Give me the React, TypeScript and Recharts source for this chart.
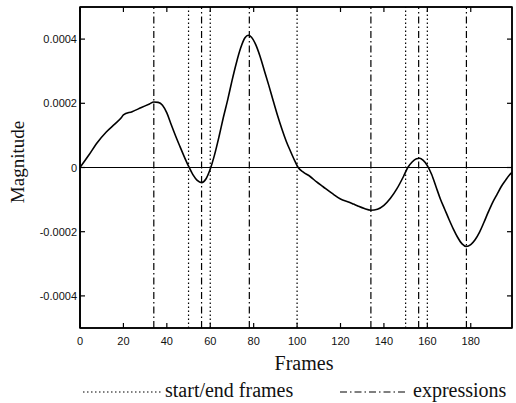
import React from 'react';
import { LineChart, Line, XAxis, YAxis, ReferenceLine, ReferenceArea } from 'recharts';

const FRAMES = [
  0, 4, 8, 12, 16, 19, 20, 24, 28, 32, 34, 36, 38, 40, 42, 44, 46, 48, 50, 52, 54, 56, 58, 60,
  62, 64, 66, 68, 70, 72, 74, 76, 77.5, 79, 81, 83, 85, 87, 89, 91, 93, 95, 97, 99, 100.5,
  103, 106, 109, 112, 116, 120, 124, 126, 128, 131, 134, 137, 140, 143, 146, 149, 151, 153,
  155, 156.5, 158, 160, 162, 164, 166, 168, 170, 172, 174, 176, 178, 180, 182, 184, 186, 188,
  190, 192, 194, 196, 198, 199,
];

const MAGNITUDE = [
  0, 0.38e-4, 0.78e-4, 1.1e-4, 1.35e-4, 1.55e-4, 1.64e-4, 1.74e-4, 1.86e-4, 1.98e-4, 2.04e-4,
  2.03e-4, 1.94e-4, 1.7e-4, 1.34e-4, 0.99e-4, 0.66e-4, 0.34e-4, 0.04e-4, -0.22e-4, -0.4e-4,
  -0.47e-4, -0.36e-4, -0.05e-4, 0.4e-4, 0.95e-4, 1.55e-4, 2.1e-4, 2.7e-4, 3.25e-4, 3.72e-4,
  4.04e-4, 4.12e-4, 4.06e-4, 3.82e-4, 3.45e-4, 3.0e-4, 2.55e-4, 2.08e-4, 1.62e-4, 1.2e-4,
  0.82e-4, 0.5e-4, 0.2e-4, 0, -0.15e-4, -0.28e-4, -0.45e-4, -0.6e-4, -0.8e-4, -0.98e-4,
  -1.08e-4, -1.14e-4, -1.2e-4, -1.28e-4, -1.33e-4, -1.3e-4, -1.18e-4, -0.96e-4, -0.66e-4,
  -0.28e-4, 0, 0.17e-4, 0.27e-4, 0.29e-4, 0.23e-4, 0.06e-4, -0.22e-4, -0.6e-4, -0.98e-4,
  -1.3e-4, -1.62e-4, -1.92e-4, -2.18e-4, -2.38e-4, -2.46e-4, -2.4e-4, -2.25e-4, -2.02e-4,
  -1.72e-4, -1.4e-4, -1.1e-4, -0.85e-4, -0.6e-4, -0.4e-4, -0.22e-4, -0.15e-4,
];

const X_MIN = 0;
const X_MAX = 199;
const Y_MIN = -0.0005;
const Y_MAX = 0.0005;
const X_TICKS = [0, 20, 40, 60, 80, 100, 120, 140, 160, 180];
const Y_TICKS = [-0.0004, -0.0002, 0, 0.0002, 0.0004];
const Y_TICK_LABELS = ['-0.0004', '-0.0002', '0', '0.0002', '0.0004'];
const START_END_FRAMES = [50, 60, 100, 150, 160];
const EXPRESSION_FRAMES = [34, 56, 78, 134, 156, 178];
const LEGEND_LABELS = ['start/end frames', 'expressions'];
const X_LABEL = 'Frames';
const Y_LABEL = 'Magnitude';

// inward tick lengths for the top/right box edges, in data units (~5px)
const TICK_LEN_X = 2.3;
const TICK_LEN_Y = 0.0000155;

const data = FRAMES.map((f, i) => ({ frame: f, magnitude: MAGNITUDE[i] }));

const TICK_FONT = '"Liberation Sans", Arial, sans-serif';
const SERIF = '"Liberation Serif", "Times New Roman", serif';
const DOTTED = '1.5 2.5';
const DASHDOT = '7 3 1.5 3';

const BottomTick = (props: any) => {
  const { x, y, payload } = props;
  return (
    <g>
      <line x1={x} y1={y} x2={x} y2={y - 5} stroke="#000" strokeWidth={1.2} />
      <text x={x} y={y + 17} textAnchor="middle" fontSize={11} fontFamily={TICK_FONT} fill="#111">
        {payload.value}
      </text>
    </g>
  );
};

const LeftTick = (props: any) => {
  const { x, y, payload } = props;
  const idx = Y_TICKS.indexOf(payload.value);
  return (
    <g>
      <line x1={x} y1={y} x2={x + 5} y2={y} stroke="#000" strokeWidth={1.2} />
      <text x={x - 3} y={y + 4} textAnchor="end" fontSize={11} fontFamily={TICK_FONT} fill="#111">
        {idx >= 0 ? Y_TICK_LABELS[idx] : ''}
      </text>
    </g>
  );
};

export default function App() {
  return (
    <div style={{ position: 'absolute', left: 0, top: 0, width: 516, height: 403, background: '#fff' }}>
      <LineChart width={516} height={403} data={data} margin={{ top: 7, right: 4, left: 0, bottom: 55 }}>
        <XAxis
          dataKey="frame"
          type="number"
          domain={[X_MIN, X_MAX]}
          ticks={X_TICKS}
          interval={0}
          allowDataOverflow
          height={20}
          tickSize={0}
          tickMargin={0}
          tickLine={false}
          tick={<BottomTick />}
          axisLine={{ stroke: '#000', strokeWidth: 1.5 }}
        />
        <YAxis
          type="number"
          domain={[Y_MIN, Y_MAX]}
          ticks={Y_TICKS}
          interval={0}
          allowDataOverflow
          width={80}
          tickSize={0}
          tickMargin={0}
          tickLine={false}
          tick={<LeftTick />}
          axisLine={{ stroke: '#000', strokeWidth: 1.8 }}
        />
        <ReferenceArea
          x1={X_MIN}
          x2={X_MAX}
          y1={Y_MIN}
          y2={Y_MAX}
          fill="none"
          stroke="#000"
          strokeWidth={1.5}
          ifOverflow="visible"
        />
        <ReferenceLine y={Y_MAX} stroke="#000" strokeWidth={1.5} ifOverflow="extendDomain" />
        <ReferenceLine x={X_MAX} stroke="#000" strokeWidth={1.5} ifOverflow="extendDomain" />
        {X_TICKS.map((t) => (
          <ReferenceLine
            key={'tt' + t}
            ifOverflow="extendDomain"
            segment={[
              { x: t, y: Y_MAX },
              { x: t, y: Y_MAX - TICK_LEN_Y },
            ]}
            stroke="#000"
            strokeWidth={1.2}
          />
        ))}
        {Y_TICKS.map((t) => (
          <ReferenceLine
            key={'rt' + t}
            ifOverflow="extendDomain"
            segment={[
              { x: X_MAX, y: t },
              { x: X_MAX - TICK_LEN_X, y: t },
            ]}
            stroke="#000"
            strokeWidth={1.2}
          />
        ))}
        <ReferenceLine y={0} stroke="#000" strokeWidth={1.1} />
        {START_END_FRAMES.map((f) => (
          <ReferenceLine key={'s' + f} x={f} stroke="#000" strokeWidth={1.2} strokeDasharray={DOTTED} />
        ))}
        {EXPRESSION_FRAMES.map((f) => (
          <ReferenceLine key={'e' + f} x={f} stroke="#000" strokeWidth={1.2} strokeDasharray={DASHDOT} />
        ))}
        <Line
          type="monotone"
          dataKey="magnitude"
          stroke="#000"
          strokeWidth={1.6}
          dot={false}
          isAnimationActive={false}
        />
      </LineChart>
      <div
        style={{
          position: 'absolute',
          left: 18,
          top: 162,
          transform: 'translate(-50%, -50%) rotate(-90deg)',
          fontFamily: SERIF,
          fontSize: 19,
          whiteSpace: 'nowrap',
          color: '#111',
        }}
      >
        {Y_LABEL}
      </div>
      <div
        style={{
          position: 'absolute',
          left: 304,
          top: 363,
          transform: 'translate(-50%, -50%)',
          fontFamily: SERIF,
          fontSize: 20,
          whiteSpace: 'nowrap',
          color: '#111',
        }}
      >
        {X_LABEL}
      </div>
      <svg style={{ position: 'absolute', left: 0, top: 380 }} width={516} height={23}>
        <line x1={83} y1={12} x2={163} y2={12} stroke="#000" strokeWidth={1.2} strokeDasharray={DOTTED} />
        <text x={165} y={17} fontFamily={SERIF} fontSize={20} fill="#111">
          {LEGEND_LABELS[0]}
        </text>
        <line x1={340} y1={12} x2={407} y2={12} stroke="#000" strokeWidth={1.2} strokeDasharray={DASHDOT} />
        <text x={413} y={17} fontFamily={SERIF} fontSize={20} fill="#111">
          {LEGEND_LABELS[1]}
        </text>
      </svg>
    </div>
  );
}
